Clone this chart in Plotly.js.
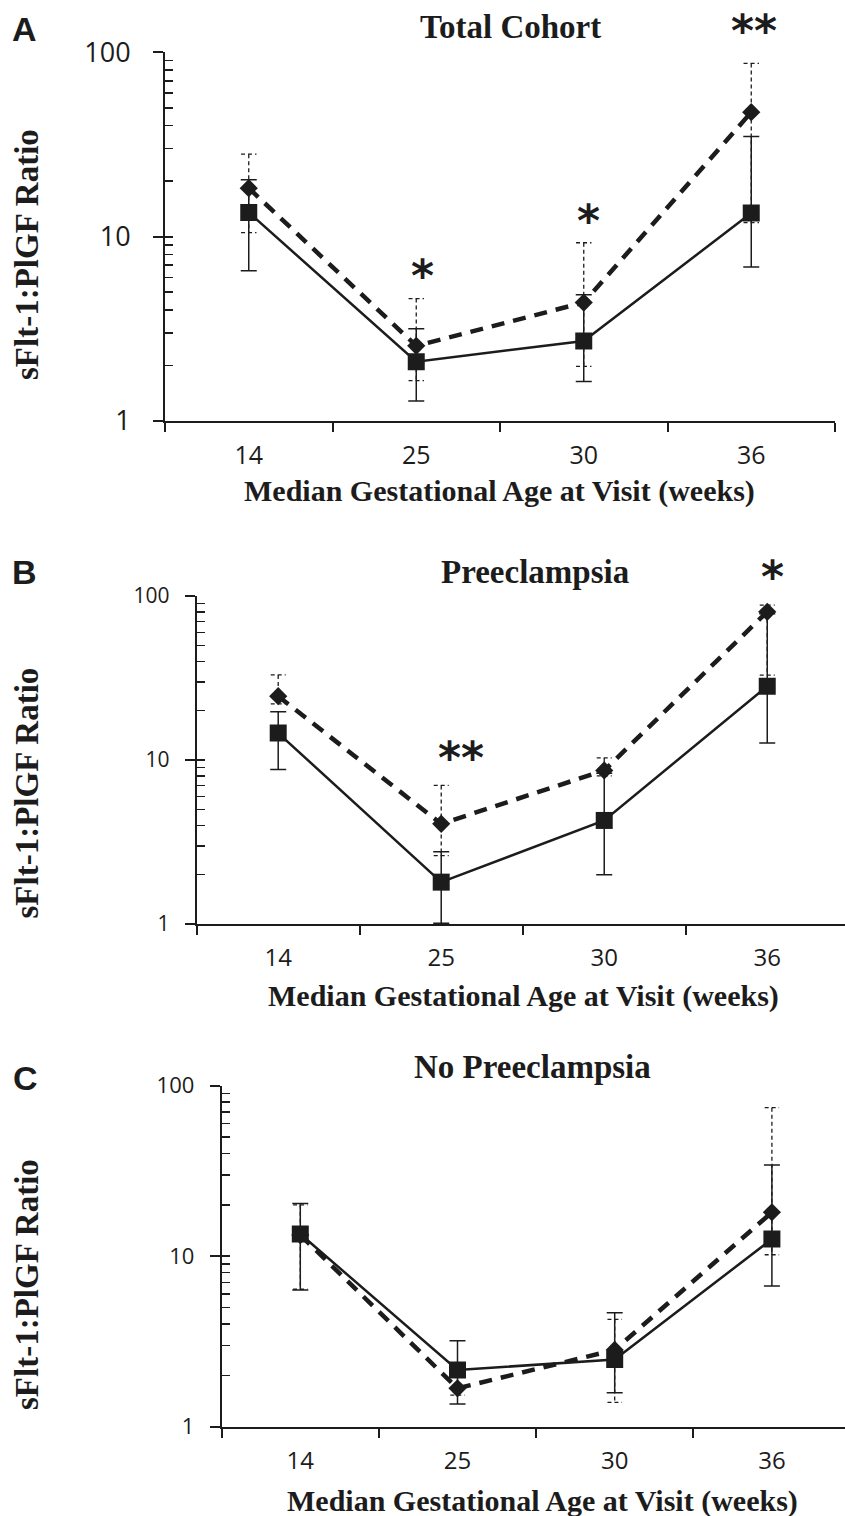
<!DOCTYPE html>
<html><head><meta charset="utf-8">
<script src="https://cdn.plot.ly/plotly-3.0.1.min.js"></script>
<style>html,body{margin:0;padding:0;background:#fff}</style>
</head><body><div id="chart" style="width:845px;height:1516px"></div>
<script>
// ---------- data ----------
const categories = ['14', '25', '30', '36'];   // median gestational age (weeks)

// Panel A - Total Cohort
const totalSquare      = [13.5, 2.09, 2.71, 13.4];
const totalSquareHigh  = [20.3, 3.16, 4.83, 34.9];
const totalSquareLow   = [6.52, 1.28, 1.63, 6.82];
const totalDiamond     = [18.3, 2.55, 4.38, 47.3];
const totalDiamondHigh = [28.0, 4.6, 9.25, 87];
const totalDiamondLow  = [10.5, 1.65, 1.97, 11.9];

// Panel B - Preeclampsia
const peSquare      = [14.6, 1.80, 4.28, 28.2];
const peSquareHigh  = [19.7, 2.76, 8.3, 78];
const peSquareLow   = [8.75, 1.01, 2.0, 12.7];
const peDiamond     = [24.5, 4.08, 8.64, 80.1];
const peDiamondHigh = [33, 7.0, 10.3, 88];
const peDiamondLow  = [22, 2.61, 8.0, 32.9];

// Panel C - No Preeclampsia
const nopeSquare      = [13.5, 2.15, 2.48, 12.6];
const nopeSquareHigh  = [20.4, 3.19, 4.66, 34.3];
const nopeSquareLow   = [6.34, 1.36, 1.58, 6.69];
const nopeDiamond     = [13.3, 1.68, 2.82, 18.1];
const nopeDiamondHigh = [20.0, 2.3, 4.26, 74.3];
const nopeDiamondLow  = [6.4, 1.53, 1.39, 10.2];

// significance marks: [category index, text]
const totalStars = [[1, '*'], [2, '*'], [3, '**']];
const peStars    = [[1, '**'], [3, '*']];
const nopeStars  = [];

const yTickVals  = [1, 10, 100];
const yTickText  = ['1', '10', '100'];
const yMinorVals = [2,3,4,5,6,7,8,9,20,30,40,50,60,70,80,90];

// ---------- styling / layout ----------
const W = 845, H = 1516;
const INK = '#1c1c1c';
const panels = [
  { letter:'A', title:'Total Cohort', sq:totalSquare, sqHi:totalSquareHigh, sqLo:totalSquareLow,
    di:totalDiamond, diHi:totalDiamondHigh, diLo:totalDiamondLow, stars:totalStars,
    starStyle:[[6,31],[4.5,30],[2.5,41]],
    px:[165,835], py:[52.3,420.7], xmax:3.5, yFont:27, xFont:25, yStand:17, xStand:11,
    letterPos:[24,29], titlePos:[510,26.5], xtitlePos:[499.5,491], ytitlePos:[27,255] },
  { letter:'B', title:'Preeclampsia', sq:peSquare, sqHi:peSquareHigh, sqLo:peSquareLow,
    di:peDiamond, diHi:peDiamondHigh, diLo:peDiamondLow, stars:peStars,
    starStyle:[[20,35.5],[5.5,37]],
    px:[196.7,845], py:[596,924], xmax:3.477, yFont:21, xFont:24, yStand:11, xStand:11,
    letterPos:[24,572.5], titlePos:[535,571.5], xtitlePos:[523,996], ytitlePos:[27,793.5] },
  { letter:'C', title:'No Preeclampsia', sq:nopeSquare, sqHi:nopeSquareHigh, sqLo:nopeSquareLow,
    di:nopeDiamond, diHi:nopeDiamondHigh, diLo:nopeDiamondLow, stars:nopeStars,
    starStyle:[],
    px:[221.7,845], py:[1085.7,1426.7], xmax:3.465, yFont:22, xFont:24, yStand:11, xStand:11,
    letterPos:[25,1077.5], titlePos:[532,1066.5], xtitlePos:[542.5,1501], ytitlePos:[27,1285] }
];

const xIdx = categories.map((c, i) => i);
const boundaries = categories.map((c, i) => i - 0.5).concat([categories.length - 0.5]);
const capHalf = 0.046;

const traces = [];
const layout = {
  width: W, height: H, margin: {l:0, r:0, t:0, b:0},
  paper_bgcolor: '#fff', plot_bgcolor: '#fff', showlegend: false,
  annotations: [], hovermode: false
};

panels.forEach((p, k) => {
  const n = k === 0 ? '' : String(k + 1);
  const xa = 'x' + n, ya = 'y' + n;
  const yo = 'y' + (k + 4);

  // dashed error bars for the diamond series (built from data)
  const ex = [], ey = [];
  xIdx.forEach((x, i) => {
    ex.push(x - capHalf, x + capHalf, null, x, x, null, x - capHalf, x + capHalf, null);
    ey.push(p.diHi[i], p.diHi[i], null, p.diHi[i], p.diLo[i], null, p.diLo[i], p.diLo[i], null);
  });
  traces.push({ x: ex, y: ey, xaxis: xa, yaxis: ya, mode: 'lines', connectgaps: false,
    line: {color: INK, width: 1.3, dash: '4px,3px'}, hoverinfo: 'skip' });

  traces.push({ name: 'diamond series', x: xIdx, y: p.di, xaxis: xa, yaxis: ya, mode: 'lines+markers',
    line: {color: INK, width: 4.5, dash: '13px,9px'},
    marker: {symbol: 'diamond', size: 14, color: INK} });

  traces.push({ name: 'square series', x: xIdx, y: p.sq, xaxis: xa, yaxis: ya, mode: 'lines+markers',
    line: {color: INK, width: 2.5},
    marker: {symbol: 'square', size: 17, color: INK},
    error_y: { type: 'data', symmetric: false,
      array: p.sqHi.map((v, i) => v - p.sq[i]),
      arrayminus: p.sq.map((v, i) => v - p.sqLo[i]),
      color: INK, thickness: 1.5, width: 8 } });

  // empty trace to realise the overlay axis (inside half of the major ticks)
  traces.push({ x: [], y: [], xaxis: xa, yaxis: yo, mode: 'markers', hoverinfo: 'skip' });

  const xd = [p.px[0] / W, p.px[1] / W];
  const yd = [1 - p.py[1] / H, 1 - p.py[0] / H];

  layout['xaxis' + n] = {
    domain: xd, range: [-0.5, p.xmax], type: 'linear', anchor: ya,
    showline: true, linecolor: INK, linewidth: 2, showgrid: false, zeroline: false,
    tickmode: 'array', tickvals: xIdx, ticktext: categories, ticks: '',
    tickfont: {family: 'Open Sans', size: p.xFont, color: INK}, ticklabelstandoff: p.xStand,
    minor: {tickmode: 'array', tickvals: boundaries, ticks: 'outside', ticklen: 9,
            tickwidth: 2, tickcolor: INK, showgrid: false},
    fixedrange: true
  };
  layout['yaxis' + n] = {
    domain: yd, type: 'log', range: [0, 2], anchor: xa,
    showline: true, linecolor: INK, linewidth: 2, showgrid: false, zeroline: false,
    tickmode: 'array', tickvals: yTickVals, ticktext: yTickText,
    ticks: 'outside', ticklen: 10, tickwidth: 2, tickcolor: INK,
    tickfont: {family: 'Open Sans', size: p.yFont, color: INK}, ticklabelstandoff: p.yStand,
    minor: {tickmode: 'array', tickvals: yMinorVals, ticks: 'inside', ticklen: 8,
            tickwidth: 1.5, tickcolor: INK, showgrid: false},
    fixedrange: true
  };
  layout['yaxis' + (k + 4)] = {
    overlaying: ya, anchor: xa, side: 'left', type: 'log', range: [0, 2],
    showline: false, showgrid: false, zeroline: false,
    tickmode: 'array', tickvals: yTickVals, ticks: 'inside', ticklen: 8, tickwidth: 2,
    tickcolor: INK, showticklabels: false, fixedrange: true
  };

  const A = layout.annotations;
  const pap = (px, py) => ({xref: 'paper', yref: 'paper', x: px / W, y: 1 - py / H,
                            xanchor: 'center', yanchor: 'middle', showarrow: false});
  A.push(Object.assign(pap(p.letterPos[0], p.letterPos[1]), {text: p.letter,
    font: {family: 'Liberation Sans, Arial', size: 34, weight: 'bold', color: INK}}));
  A.push(Object.assign(pap(p.titlePos[0], p.titlePos[1]), {text: p.title,
    font: {family: 'Liberation Serif, Times New Roman', size: 33, weight: 'bold', color: INK}}));
  A.push(Object.assign(pap(p.xtitlePos[0], p.xtitlePos[1]), {text: 'Median Gestational Age at Visit (weeks)',
    font: {family: 'Liberation Serif, Times New Roman', size: 30, weight: 'bold', color: INK}}));
  A.push(Object.assign(pap(p.ytitlePos[0], p.ytitlePos[1]), {text: 'sFlt-1:PlGF Ratio', textangle: -90,
    font: {family: 'Liberation Serif, Times New Roman', size: 33, weight: 'bold', color: INK}}));

  p.stars.forEach((s, j) => {
    const i = s[0];
    A.push({ xref: xa, yref: ya, x: xIdx[i], y: Math.log10(p.diHi[i]), text: s[1],
      xanchor: 'center', yanchor: 'middle', showarrow: false,
      xshift: p.starStyle[j][0], yshift: p.starStyle[j][1] - 8,
      font: {family: 'DejaVu Sans', size: 44, weight: 'bold', color: INK} });
  });
});

Plotly.newPlot('chart', traces, layout, {staticPlot: true, displayModeBar: false});
</script>
</body></html>
